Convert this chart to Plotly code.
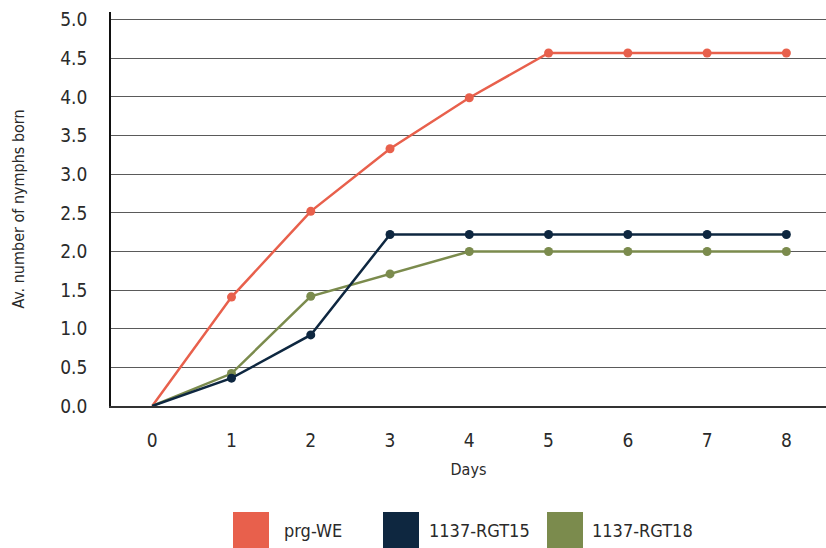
import plotly.graph_objects as go

# Days after start and average number of nymphs born per line
days = [0, 1, 2, 3, 4, 5, 6, 7, 8]
prg_we = [0, 1.41, 2.52, 3.33, 3.99, 4.57, 4.57, 4.57, 4.57]
rgt15 = [0, 0.36, 0.92, 2.22, 2.22, 2.22, 2.22, 2.22, 2.22]
rgt18 = [0, 0.42, 1.42, 1.71, 2.0, 2.0, 2.0, 2.0, 2.0]

series_names = ["prg-WE", "1137-RGT15", "1137-RGT18"]
series_colors = ["#E8604C", "#0E2740", "#7B8B4D"]
y_ticks = [0, 0.5, 1, 1.5, 2, 2.5, 3, 3.5, 4, 4.5, 5]
y_tick_text = [f"{v:.1f}" for v in y_ticks]

FONT = "DejaVu Sans Condensed, sans-serif"

# no dot at the origin, dots on every later day
marker_sizes = [0] + [9] * (len(days) - 1)

fig = go.Figure()
# draw order: red first, then green, navy on top
for idx, vals in [(0, prg_we), (2, rgt18), (1, rgt15)]:
    fig.add_trace(go.Scatter(
        x=days, y=vals, name=series_names[idx], mode="lines+markers",
        line=dict(color=series_colors[idx], width=2.5),
        marker=dict(color=series_colors[idx], size=marker_sizes,
                    opacity=1, line=dict(width=0)),
        showlegend=False,
    ))

# custom legend: big colour squares with labels below the plot
PLOT_W, PLOT_H, X0, Y0 = 715, 394, 111, 406
square_left = [233, 383, 547]
label_left = [282, 427, 590]
for i, name in enumerate(series_names):
    x0 = (square_left[i] - X0) / PLOT_W
    fig.add_shape(type="rect", xref="paper", yref="paper",
                  x0=x0, x1=x0 + 36 / PLOT_W,
                  y0=-(512 - Y0) / PLOT_H, y1=-(548 - Y0) / PLOT_H,
                  fillcolor=series_colors[i], line=dict(width=0))
    fig.add_annotation(x=(label_left[i] - X0) / PLOT_W, y=-(530 - Y0) / PLOT_H,
                       xref="paper", yref="paper",
                       text=name, showarrow=False, xanchor="left", yanchor="middle",
                       font=dict(family=FONT, size=18, color="#2a2a2a"))

fig.update_layout(
    width=826, height=548,
    margin=dict(l=111, r=0, t=12, b=142),
    paper_bgcolor="white", plot_bgcolor="white",
    font=dict(family=FONT, color="#2a2a2a"),
)
fig.update_xaxes(
    range=[-0.52, 8.5], tickvals=days, ticktext=[str(d) for d in days],
    showgrid=False, zeroline=False, showline=True, linecolor="#333", linewidth=1.5,
    ticks="", ticklabelstandoff=16, tickfont=dict(size=19),
    title=dict(text="Days", font=dict(size=16), standoff=14),
)
fig.update_yaxes(
    range=[0, 5.1], tickvals=y_ticks, ticktext=y_tick_text,
    showgrid=True, gridcolor="#5a5a5a", gridwidth=1.3,
    zeroline=False, showline=True, linecolor="#111", linewidth=1.5,
    ticks="", ticklabelstandoff=18, tickfont=dict(size=19),
    title=dict(text="Av. number of nymphs born", font=dict(size=16), standoff=32),
)

fig.write_html("out.html")
